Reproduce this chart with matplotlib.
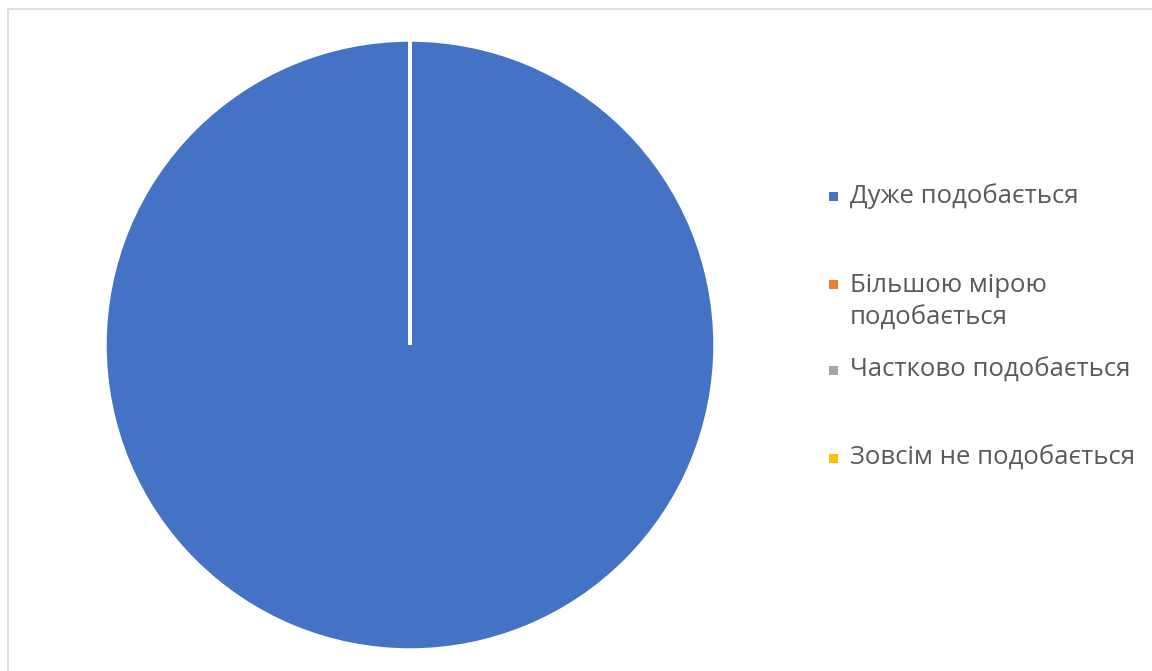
import matplotlib
matplotlib.use("Agg")
from matplotlib import pyplot as plt
from matplotlib.patches import Rectangle
from matplotlib.lines import Line2D

labels = ['Дуже подобається', 'Більшою мірою\nподобається', 'Частково подобається', 'Зовсім не подобається']
values = [100, 0, 0, 0]
colors = ['#4472C4', '#ED7D31', '#A5A5A5', '#FFC000']
# legend row positions (pixels from top) in the reference
legend_y = [196, 302, 370, 458]

W, H = 1152, 671
fig = plt.figure(figsize=(W / 100, H / 100), dpi=100)

# light grey chart border (only top and left visible - the picture is cropped)
fig.lines.append(Line2D([7.5 / W, 7.5 / W, 1], [0, (H - 8.5) / H, (H - 8.5) / H],
                        transform=fig.transFigure, color='#D9D9D9', linewidth=1.2))

cx, cy, r = 410, 345, 305
ax = fig.add_axes([(cx - r) / W, (H - cy - r) / H, 2 * r / W, 2 * r / H])
ax.pie(values, colors=colors, startangle=90, counterclock=False,
       wedgeprops=dict(edgecolor='white', linewidth=2.5))
ax.set_xlim(-1.0, 1.0)
ax.set_ylim(-1.0, 1.0)
ax.set_aspect('equal')
ax.axis('off')

for lab, col, y in zip(labels, colors, legend_y):
    n = lab.count('\n') + 1
    ytop = y - (n - 1) * 18
    fig.patches.append(Rectangle((829 / W, (H - ytop - 5) / H), 9 / W, 9 / H,
                                 transform=fig.transFigure, facecolor=col, edgecolor='none'))
    fig.text(850 / W, (H - y) / H, lab, fontsize=18.5, color='#595959', va='center', ha='left',
             family='Open Sans', linespacing=1.4)

plt.savefig('out.png', dpi=100)
